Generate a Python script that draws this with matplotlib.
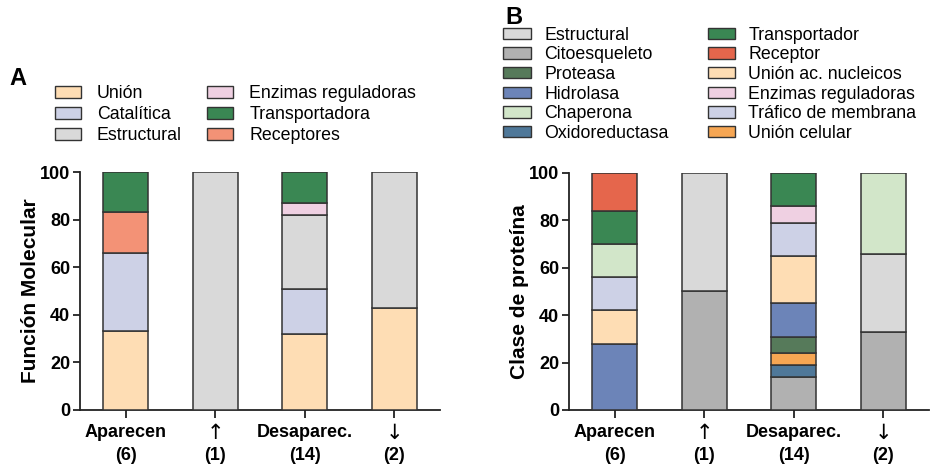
import matplotlib
matplotlib.use("Agg")
import matplotlib.pyplot as plt
from matplotlib.patches import Patch
from matplotlib import font_manager as fm
import numpy as np

# ---------------- data ----------------
groups = ["Aparecen\n(6)", "↑\n(1)", "Desaparec.\n(14)", "↓\n(2)"]

# Panel A: molecular function (% per group), stacked bottom -> top
a_labels = ["Unión", "Catalítica", "Estructural", "Receptores", "Enzimas reguladoras", "Transportadora"]
a_union = [33, 0, 32, 43]
a_catalitica = [33, 0, 19, 0]
a_estructural = [0, 100, 31, 57]
a_receptores = [17, 0, 0, 0]
a_enzimas = [0, 0, 5, 0]
a_transportadora = [17, 0, 13, 0]

# Panel B: protein class (% per group), stacked bottom -> top
b_labels = ["Citoesqueleto", "Oxidoreductasa", "Unión celular", "Proteasa", "Hidrolasa",
            "Estructural", "Unión ac. nucleicos", "Tráfico de membrana", "Chaperona",
            "Enzimas reguladoras", "Transportador", "Receptor"]
b_citoesqueleto = [0, 50, 14, 33]
b_oxidoreductasa = [0, 0, 5, 0]
b_union_celular = [0, 0, 5, 0]
b_proteasa = [0, 0, 7, 0]
b_hidrolasa = [28, 0, 14, 0]
b_estructural = [0, 50, 0, 33]
b_union_nucleicos = [14, 0, 20, 0]
b_trafico = [14, 0, 14, 0]
b_chaperona = [14, 0, 0, 34]
b_enzimas = [0, 0, 7, 0]
b_transportador = [14, 0, 14, 0]
b_receptor = [16, 0, 0, 0]

yticks = [0, 20, 40, 60, 80, 100]

# ---------------- style ----------------
C_UNION = "#FEDDB4"
C_CAT = "#CDD1E6"
C_EST = "#D9D9D9"
C_ENZ = "#EFD0E2"
C_TRANS = "#3A8753"
C_RECA = "#F39276"
C_CITO = "#B1B1B1"
C_PROT = "#567A5A"
C_HIDRO = "#6C84B8"
C_CHAP = "#D2E6C9"
C_OXI = "#4F7899"
C_RECB = "#E5664C"
C_UCEL = "#F6A653"
EDGE = "#333333"

names = {f.name for f in fm.fontManager.ttflist}
narrow = "Liberation Sans Narrow" if "Liberation Sans Narrow" in names else "Liberation Sans"
base = "Liberation Sans" if "Liberation Sans" in names else "DejaVu Sans"
plt.rcParams['font.family'] = [base, 'DejaVu Sans']

fig = plt.figure(figsize=(9.3, 4.66), dpi=100)
axA = fig.add_axes([80 / 930, 0.1202, 360 / 930, 0.5107])
axB = fig.add_axes([569 / 930, 0.1202, 360 / 930, 0.5086])

LINE1_OFF = -16.5   # points below the x axis (centre of first label line)
LINE2_OFF = -33.0   # points below the x axis (centre of second label line)

def draw(ax, series, colors, ylabel):
    x = np.arange(len(groups))
    bottom = np.zeros(len(groups))
    for vals, col in zip(series, colors):
        v = np.array(vals, dtype=float)
        mask = v > 0
        ax.bar(x[mask], v[mask], bottom=bottom[mask], width=0.5, color=col,
               edgecolor=EDGE, linewidth=1.1, zorder=3)
        bottom += v
    ax.set_xlim(-0.51, 3.51)
    ax.set_ylim(0, 100)
    ax.set_yticks(yticks)
    ax.set_xticks(x)
    ax.set_xticklabels([])
    for i, g in enumerate(groups):
        first, second = g.split("\n")
        if first in ("↑", "↓"):
            kw1 = dict(fontsize=15, family=['DejaVu Sans'], fontweight='normal')
        else:
            kw1 = dict(fontsize=13, family=[narrow, 'DejaVu Sans'], fontweight='bold')
        ax.annotate(first, xy=(i, 0), xycoords=('data', 'axes fraction'),
                    xytext=(0, LINE1_OFF), textcoords='offset points',
                    ha='center', va='center', annotation_clip=False, **kw1)
        ax.annotate(second, xy=(i, 0), xycoords=('data', 'axes fraction'),
                    xytext=(0, LINE2_OFF), textcoords='offset points',
                    ha='center', va='center', annotation_clip=False,
                    fontsize=13, family=[narrow, 'DejaVu Sans'], fontweight='bold')
    for lab in ax.get_yticklabels():
        lab.set_fontweight('bold')
        lab.set_fontsize(13)
        lab.set_family([narrow, 'DejaVu Sans'])
    for s in ["top", "right"]:
        ax.spines[s].set_visible(False)
    for s in ["left", "bottom"]:
        ax.spines[s].set_linewidth(1.3)
        ax.spines[s].set_color("#222222")
    ax.tick_params(axis='y', direction='out', length=5, width=1.3, colors="#222222",
                   labelcolor="black", pad=2)
    ax.tick_params(axis='x', direction='out', length=5.5, width=1.3, colors="#222222",
                   labelcolor="black", pad=4)
    ax.set_ylabel(ylabel, fontsize=15, fontweight='bold', family=[narrow, 'DejaVu Sans'], labelpad=0)

draw(axA, [a_union, a_catalitica, a_estructural, a_receptores, a_enzimas, a_transportadora],
     [C_UNION, C_CAT, C_EST, C_RECA, C_ENZ, C_TRANS], "Función Molecular")
draw(axB, [b_citoesqueleto, b_oxidoreductasa, b_union_celular, b_proteasa, b_hidrolasa,
           b_estructural, b_union_nucleicos, b_trafico, b_chaperona, b_enzimas,
           b_transportador, b_receptor],
     [C_CITO, C_OXI, C_UCEL, C_PROT, C_HIDRO, C_EST, C_UNION, C_CAT, C_CHAP, C_ENZ, C_TRANS, C_RECB],
     "Clase de proteína")

# legends
legA_items = [("Unión", C_UNION), ("Catalítica", C_CAT), ("Estructural", C_EST),
              ("Enzimas reguladoras", C_ENZ), ("Transportadora", C_TRANS), ("Receptores", C_RECA)]
legB_items = [("Estructural", C_EST), ("Citoesqueleto", C_CITO), ("Proteasa", C_PROT),
              ("Hidrolasa", C_HIDRO), ("Chaperona", C_CHAP), ("Oxidoreductasa", C_OXI),
              ("Transportador", C_TRANS), ("Receptor", C_RECB), ("Unión ac. nucleicos", C_UNION),
              ("Enzimas reguladoras", C_ENZ), ("Tráfico de membrana", C_CAT), ("Unión celular", C_UCEL)]

def mk(items):
    return [Patch(facecolor=c, edgecolor=EDGE, linewidth=1.0, label=l) for l, c in items]

fig.legend(handles=mk(legA_items), ncol=2, loc='upper left', bbox_to_anchor=(0.0495, 0.836),
           frameon=False, fontsize=12.8, handlelength=1.45, handleheight=0.6,
           labelspacing=0.22, columnspacing=1.45, handletextpad=0.9, borderpad=0)
fig.legend(handles=mk(legB_items), ncol=2, loc='upper left', bbox_to_anchor=(0.5315, 0.962),
           frameon=False, fontsize=12.8, handlelength=1.55, handleheight=0.6,
           labelspacing=0.15, columnspacing=2.2, handletextpad=0.75, borderpad=0)

fig.text(0.010, 0.832, "A", fontsize=17, fontweight='bold', va='center')
fig.text(0.543, 0.962, "B", fontsize=17, fontweight='bold', va='center')

fig.savefig("out.png", dpi=100)
